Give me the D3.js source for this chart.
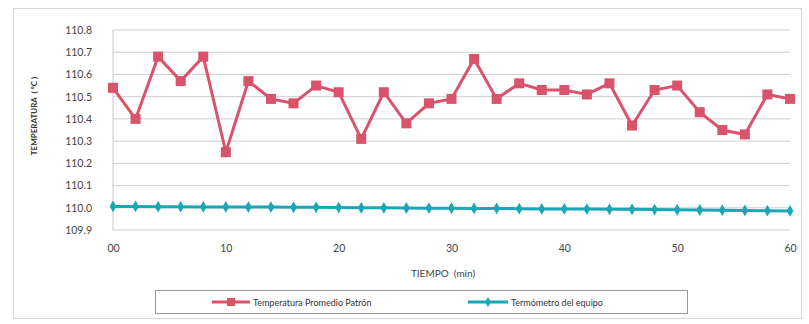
<!DOCTYPE html>
<html><head><meta charset="utf-8">
<script src="https://cdn.jsdelivr.net/npm/d3@7/dist/d3.min.js"></script>
<style>body{margin:0;background:#fff;}svg{display:block;font-family:Lato,"Open Sans",sans-serif;}</style>
</head><body><svg id="c" width="809" height="324"></svg>
<script>
const times = [0,2,4,6,8,10,12,14,16,18,20,22,24,26,28,30,32,34,36,38,40,42,44,46,48,50,52,54,56,58,60];
const patron = [110.54,110.40,110.68,110.57,110.68,110.25,110.57,110.49,110.47,110.55,110.52,110.31,110.52,110.38,110.47,110.49,110.67,110.49,110.56,110.53,110.53,110.51,110.56,110.37,110.53,110.55,110.43,110.35,110.33,110.51,110.49];
const equipo = [110.006,110.006,110.005,110.005,110.004,110.004,110.003,110.003,110.002,110.002,110.001,110.000,110.000,109.999,109.998,109.998,109.997,109.997,109.996,109.995,109.995,109.994,109.993,109.993,109.992,109.991,109.990,109.989,109.988,109.987,109.986];
const yTicks = [109.9,110.0,110.1,110.2,110.3,110.4,110.5,110.6,110.7,110.8];
const xTicks = [0,10,20,30,40,50,60];
const xTickLabels = ["00","10","20","30","40","50","60"];
const seriesNames = ["Temperatura Promedio Patrón","Termómetro del equipo"];
const colors = ["#d9536b","#1ba6b5"];

const svg = d3.select("#c");
const x = d3.scaleLinear().domain([0,60]).range([113,790]);
const y = d3.scaleLinear().domain([109.9,110.8]).range([230,30]);

svg.append("rect").attr("x",13.5).attr("y",8.5).attr("width",788).attr("height",310)
  .attr("fill","none").attr("stroke","#d9d9d9");

svg.append("g").selectAll("line").data(yTicks).join("line")
  .attr("x1",113).attr("x2",790).attr("y1",d=>y(d)).attr("y2",d=>y(d))
  .attr("stroke","#cfcfcf").attr("stroke-width",1);
svg.append("line").attr("x1",113).attr("x2",113).attr("y1",30).attr("y2",230).attr("stroke","#c8c8c8");

const yAxis = d3.axisLeft(y).tickValues(yTicks).tickFormat(d3.format(".1f")).tickSize(0).tickPadding(21);
const gy = svg.append("g").attr("transform","translate(113,0)").call(yAxis);
gy.select(".domain").remove();
gy.selectAll("text").attr("font-size",10.5).attr("fill","#444").attr("font-family","Lato,sans-serif");

const xAxis = d3.axisBottom(x).tickValues(xTicks).tickFormat((d,i)=>xTickLabels[i]).tickSize(0).tickPadding(15);
const gx = svg.append("g").attr("transform","translate(0,230)").call(xAxis);
gx.select(".domain").remove();
gx.selectAll("text").attr("font-size",10.5).attr("fill","#444").attr("font-family","Lato,sans-serif");

svg.append("text").attr("transform","translate(37,116) rotate(-90)").attr("text-anchor","middle")
  .attr("font-size",8).attr("font-weight","bold").attr("fill","#333").text("TEMPERATURA\u00a0\u00a0(\u00a0ºC\u00a0)");
svg.append("text").attr("x",443).attr("y",277).attr("text-anchor","middle")
  .attr("font-size",10).attr("fill","#444").text("TIEMPO\u00a0\u00a0(min)");

const line = d3.line().x(d=>x(d[0])).y(d=>y(d[1]));
const pData = times.map((t,i)=>[t,patron[i]]);
const eData = times.map((t,i)=>[t,equipo[i]]);

svg.append("path").datum(eData).attr("d",line).attr("fill","none").attr("stroke",colors[1]).attr("stroke-width",3);
const diamond = d3.symbol().type(d3.symbolDiamond).size(40);
svg.append("g").selectAll("path").data(eData).join("path")
  .attr("transform",d=>`translate(${x(d[0])},${y(d[1])})`).attr("d",diamond).attr("fill",colors[1]);

svg.append("path").datum(pData).attr("d",line).attr("fill","none").attr("stroke",colors[0]).attr("stroke-width",3);
svg.append("g").selectAll("rect").data(pData).join("rect")
  .attr("x",d=>x(d[0])-5).attr("y",d=>y(d[1])-5).attr("width",10).attr("height",10).attr("fill",colors[0]);

svg.append("rect").attr("x",155.5).attr("y",290.5).attr("width",532).attr("height",23)
  .attr("fill","#fff").attr("stroke","#9a9a9a");
const lg = [{x1:212,x2:250,tx:253},{x1:468,x2:508,tx:511}];
lg.forEach((l,i)=>{
  svg.append("line").attr("x1",l.x1).attr("x2",l.x2).attr("y1",302).attr("y2",302).attr("stroke",colors[i]).attr("stroke-width",3);
  if(i===0) svg.append("rect").attr("x",(l.x1+l.x2)/2-4).attr("y",298).attr("width",8).attr("height",8).attr("fill",colors[0]);
  else svg.append("path").attr("transform",`translate(${(l.x1+l.x2)/2},302)`).attr("d",d3.symbol().type(d3.symbolDiamond).size(30)).attr("fill",colors[1]);
  svg.append("text").attr("x",l.tx).attr("y",305.5).attr("font-size",9).attr("fill","#333").text(seriesNames[i]);
});
</script></body></html>
